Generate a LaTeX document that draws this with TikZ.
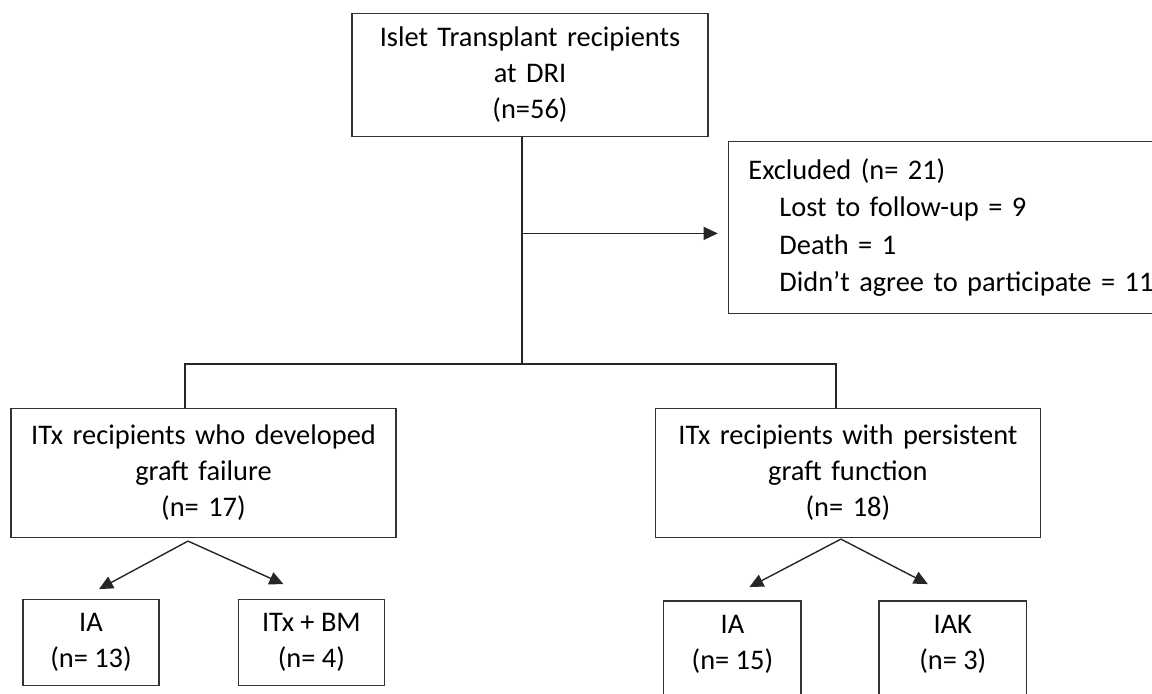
\documentclass[tikz,border=0pt]{standalone}
\usepackage{fontspec}
\setmainfont{Carlito}
\usetikzlibrary{arrows.meta,positioning,calc}

\begin{document}
\begin{tikzpicture}[
  font=\fontsize{14.2pt}{18pt}\selectfont,
  main/.style={draw=black!80, line width=0.7pt, inner sep=0pt, align=center, text width=178pt, minimum height=61.5pt},
  side/.style={draw=black!80, line width=0.7pt, inner xsep=10pt, inner ysep=0pt, align=left, text width=240pt, minimum height=86pt, font=\fontsize{14.2pt}{18.75pt}\selectfont},
  group/.style={draw=black!80, line width=0.7pt, inner sep=0pt, align=center, text width=192.5pt, minimum height=64.5pt},
  leaf/.style={draw=black!80, line width=0.7pt, inner sep=0pt, align=center, minimum width=68pt, minimum height=43pt},
  wide/.style={minimum width=73pt},
  edge/.style={line width=0.7pt, black!85},
  flow/.style={-{Triangle[length=7pt,width=6.5pt]}, line width=0.7pt, black!85}]
\useasboundingbox (0,0) rectangle (576pt,-347pt);
\clip (0,0) rectangle (576pt,-347pt);
\node[main] (top) at (265pt,-37.5pt) {Islet Transplant recipients\\ at DRI\\ (n=56)};
\node[side, below right=1.75pt and 9.5pt of top.south east] (excl) {Excluded (n= 21)\\ \hspace*{15.5pt}Lost to follow-up = 9\\ \hspace*{15.5pt}Death = 1\\ \hspace*{15.5pt}Didn’t agree to participate = 11};
\node[group, below=135.25pt of top, xshift=-163.25pt] (fail) {ITx recipients who developed\\ graft failure\\ (n= 17)};
\node[group, right=129pt of fail] (persist) {ITx recipients with persistent\\ graft function\\ (n= 18)};
\node[leaf, below right=30.5pt and 6pt of fail.south west] (iaF) {IA\\ (n= 13)};
\node[leaf, wide, right=39pt of iaF] (bm) {ITx + BM\\ (n= 4)};
\node[leaf, draw=none, below right=31.5pt and 4.5pt of persist.south west] (iaP) {IA\\ (n= 15)};
\node[leaf, wide, draw=none, right=39pt of iaP] (iak) {IAK\\ (n= 3)};
% open boxes running off the bottom edge
\draw[draw=black!80, line width=0.7pt] ([yshift=-12pt]iaP.south west) |- (iaP.north east) -- ([yshift=-12pt]iaP.south east);
\draw[draw=black!80, line width=0.7pt] ([yshift=-12pt]iak.south west) |- (iak.north east) -- ([yshift=-12pt]iak.south east);
% trunk and split
\coordinate (split) at ($(top.south)+(-4pt,-113.5pt)$);
\draw[edge] (top.south -| split) -- (split);
\draw[flow] ([yshift=-3pt]excl.west -| split) -- ([xshift=-5pt,yshift=-3pt]excl.west);
\draw[edge] ([xshift=-9.25pt]fail.north) |- (split) -| ([xshift=-6pt]persist.north);
\draw[flow] ([xshift=-7.75pt,yshift=-1.5pt]fail.south) -- ([xshift=4pt,yshift=5pt]iaF.north);
\draw[flow] ([xshift=-7.75pt,yshift=-1.5pt]fail.south) -- ([xshift=-14pt,yshift=7.5pt]bm.north);
\draw[flow] ([xshift=-3.5pt,yshift=-0.5pt]persist.south) -- ([xshift=8.5pt,yshift=7pt]iaP.north);
\draw[flow] ([xshift=-3.5pt,yshift=-0.5pt]persist.south) -- ([xshift=-12.5pt,yshift=8.5pt]iak.north);
\end{tikzpicture}
\end{document}
